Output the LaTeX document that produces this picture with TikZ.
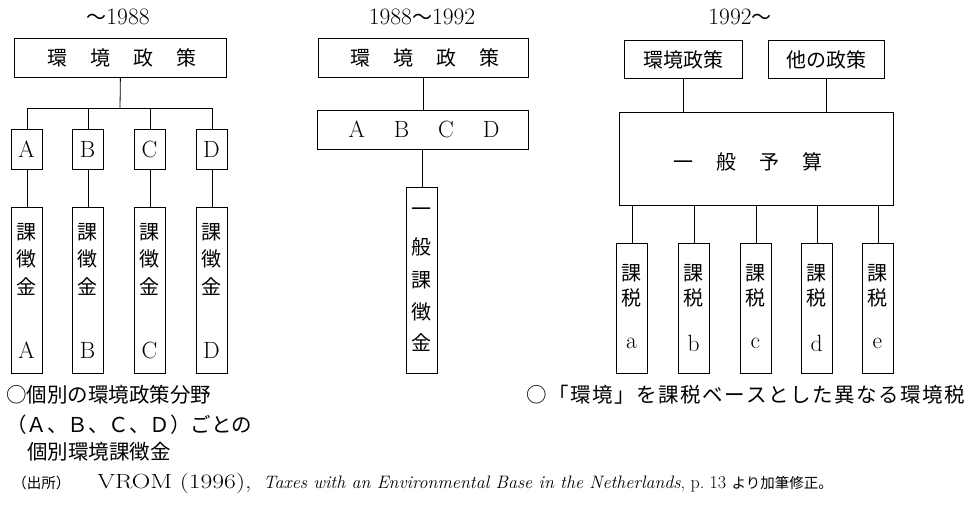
\documentclass[tikz,border=0pt]{standalone}
\usepackage{fontspec}
\usepackage{graphicx}
\newfontfamily\cjk{Noto Sans CJK JP}
\newcommand{\ks}{\kern1.5pt}
\begin{document}
\begin{tikzpicture}[x=1pt,y=-1pt, line width=0.8pt,
  box/.style={draw, line width=0.8pt, inner sep=0pt, anchor=north west},
  jp/.style={font=\cjk\fontsize{20}{24}\selectfont, inner sep=0pt},
  lat/.style={font=\fontsize{23.5}{26}\selectfont, inner sep=0pt},
  captxt/.style={font=\cjk\fontsize{20.5}{24}\selectfont, inner sep=0pt, anchor=west},
  yr/.style={font=\fontsize{23.5}{26}\selectfont, inner sep=0pt}]
\useasboundingbox (0,0) rectangle (971,510);

% ---------- years ----------
\node[yr] (y1) at (118,17) {{\cjk\fontsize{20}{24}\selectfont ～}1988};
\node[yr] (y2) at (422,17) {1988{\cjk\fontsize{20}{24}\selectfont ～}1992};
\node[yr] (y3) at (740,17) {1992{\cjk\fontsize{20}{24}\selectfont ～}};

% ---------- panel 1 ----------
\node[box, minimum width=212pt, minimum height=39pt] (t1) at (14,38) {};
\node[jp] (t1txt) at (122,57.5) {環\hspace{23pt}境\hspace{23pt}政\hspace{23pt}策};
\coordinate (h1) at (120,108);
\foreach \n/\x in {A/11, B/72, C/134, D/196} {
  \node[box, minimum width=31pt, minimum height=40pt] (u\n) at (\x,129) {};
  \node[lat] (u\n t) at (\x+15.5,149) {\n};
  \node[box, minimum width=31pt, minimum height=166pt] (l\n) at (\x,207) {};
  \node[jp] (l\n 1) at (\x+15.5,232) {課};
  \node[jp] (l\n 2) at (\x+15.5,259) {徴};
  \node[jp] (l\n 3) at (\x+15.5,287) {金};
  \node[lat] (l\n 4) at (\x+15.5,350) {\n};
  \draw (u\n.south) -- (l\n.north);
}
\draw (t1.south) -- (h1);
\draw (uA.north) -- (uA.north |- h1) -- (uD.north |- h1) -- (uD.north);
\draw (uB.north) -- (uB.north |- h1);
\draw (uC.north) -- (uC.north |- h1);

% ---------- panel 2 ----------
\node[box, minimum width=210pt, minimum height=39pt] (t2) at (318,38) {};
\node[jp] (t2txt) at (425,57.5) {環\hspace{23pt}境\hspace{23pt}政\hspace{23pt}策};
\node[box, minimum width=211pt, minimum height=39pt] (m2) at (317,110) {};
\node[lat] (m2txt) at (424,129.5) {A\hspace{29pt}B\hspace{29pt}C\hspace{29pt}D};
\node[box, minimum width=31pt, minimum height=186pt] (b2) at (406,187) {};
\node[jp] (b21) at (421.5,212) {一};
\node[jp] (b22) at (421.5,247) {般};
\node[jp] (b23) at (421.5,280) {課};
\node[jp] (b24) at (421.5,312) {徴};
\node[jp] (b25) at (421.5,343) {金};
\draw (t2.south) -- (t2.south |- m2.north);
\draw (b2.north |- m2.south) -- (b2.north);

% ---------- panel 3 ----------
\node[box, minimum width=118pt, minimum height=38pt] (e3) at (624,40) {};
\node[jp] (e3txt) at (e3.center) {環境政策};
\node[box, minimum width=116pt, minimum height=38pt] (o3) at (768,40) {};
\node[jp] (o3txt) at (o3.center) {他の政策};
\node[box, minimum width=274pt, minimum height=93pt] (g3) at (619,112) {};
\node[jp] (g3txt) at (748,162) {一\hspace{23pt}般\hspace{23pt}予\hspace{23pt}算};
\draw (e3.south) -- (e3.south |- g3.north);
\draw (o3.south) -- (o3.south |- g3.north);
\foreach \n/\x in {a/616, b/678, c/740, d/801, e/862} {
  \node[box, minimum width=31pt, minimum height=130pt] (x\n) at (\x,243) {};
  \node[jp] (x\n 1) at (\x+15.5,273) {課};
  \node[jp] (x\n 2) at (\x+15.5,298) {税};
  \node[lat] (x\n 3) at (\x+15.5,343) {\n};
  \draw (x\n.north |- g3.south) -- (x\n.north);
}

% ---------- captions ----------
\node[captxt] (c1) at (6,395) {○個別の環境政策分野};
\node[captxt] (c2) at (6,425) {（Ａ、Ｂ、Ｃ、Ｄ）ごとの};
\node[captxt] (c3) at (27,452) {個別環境課徴金};
\node[captxt] (c4) at (526,395) {○\ks「\ks 環\ks 境\ks」\ks を\ks 課\ks 税\ks ベ\ks ー\ks ス\ks と\ks し\ks た\ks 異\ks な\ks る\ks 環\ks 境\ks 税};

% ---------- source ----------
\node[anchor=base west, inner sep=0pt, font=\cjk\fontsize{14.5}{17}\selectfont] (s1) at (12,488) {（出所）};
\node[anchor=base west, inner sep=0pt, font=\fontsize{20.5}{22}\selectfont] (s2) at (97,488) {\scalebox{1.25}[1]{VROM (1996),}};
\node[anchor=base west, inner sep=0pt, font=\fontsize{18}{21}\selectfont] (s3) at (263,488) {\textit{Taxes with an Environmental Base in the Netherlands}, p.~13 {\cjk\fontsize{14.5}{17}\selectfont より加筆修正。}};
\end{tikzpicture}
\end{document}
